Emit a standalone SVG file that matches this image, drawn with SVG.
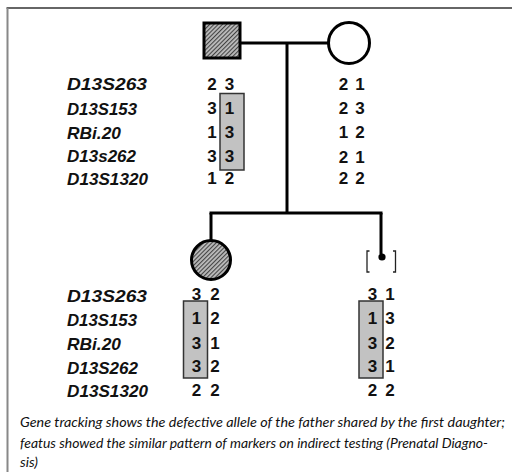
<svg xmlns="http://www.w3.org/2000/svg" width="512" height="472" viewBox="0 0 512 472">
  <defs>
    <pattern id="hatch" width="3" height="3" patternUnits="userSpaceOnUse" patternTransform="rotate(45)">
      <rect width="3" height="3" fill="#bdbdbd"/>
      <rect width="1.1" height="3" fill="#444"/>
    </pattern>
    <style>
      .line { stroke: #000; stroke-width: 3; fill: none; }
      .lbl { font-family: "Liberation Sans", Arial, sans-serif; font-size: 17px; font-weight: bold; font-style: italic; fill: #111; }
      .num { font-family: "Liberation Sans", Arial, sans-serif; font-size: 17px; font-weight: bold; fill: #111; text-anchor: middle; }
      .hap { fill: #c2c2c2; stroke: #333; stroke-width: 1.5; }
      .cap { font-family: Lato, "Open Sans", sans-serif; font-size: 14.2px; font-style: italic; fill: #111; }
    </style>
  </defs>

  <rect width="512" height="472" fill="#fff"/>
  <!-- frame -->
  <line x1="6.5" y1="8" x2="512" y2="8" stroke="#333" stroke-width="1.5"/>
  <line x1="7.5" y1="8" x2="7.5" y2="472" stroke="#888" stroke-width="2"/>

  <!-- connectors -->
  <g id="connectors">
    <line class="line" x1="241" y1="43" x2="329" y2="43"/>
    <line class="line" x1="287" y1="43" x2="287" y2="213"/>
    <line class="line" x1="209.5" y1="213" x2="382.5" y2="213"/>
    <line class="line" x1="211" y1="213" x2="211" y2="241"/>
    <line class="line" x1="381" y1="213" x2="381" y2="254"/>
  </g>

  <!-- father -->
  <g id="father">
    <rect x="204" y="23" width="36" height="35" fill="url(#hatch)" stroke="#000" stroke-width="3"/>
  </g>

  <!-- mother -->
  <g id="mother">
    <circle cx="349" cy="43" r="20.5" fill="#fff" stroke="#000" stroke-width="3"/>
  </g>

  <!-- affected daughter -->
  <g id="daughter">
    <circle cx="211" cy="260" r="19.5" fill="url(#hatch)" stroke="#000" stroke-width="3"/>
  </g>

  <!-- fetus (prenatal) -->
  <g id="fetus">
    <path d="M369.5 251 H367 V272 H369.5" fill="none" stroke="#222" stroke-width="1.3"/>
    <path d="M393 251 H395.5 V272 H393" fill="none" stroke="#222" stroke-width="1.3"/>
    <circle cx="382" cy="257" r="3.6" fill="#000"/>
  </g>

  <!-- haplotype boxes -->
  <g id="haplotypes">
    <rect class="hap" x="220" y="93.5" width="24" height="76.5"/>
    <rect class="hap" x="183.5" y="301" width="24" height="77"/>
    <rect class="hap" x="359" y="301" width="24" height="77"/>
  </g>

  <!-- parental markers -->
  <g id="parent-markers">
    <text class="lbl" x="67" y="90" textLength="80" lengthAdjust="spacingAndGlyphs">D13S263</text>
    <text class="lbl" x="67" y="114.5" textLength="70" lengthAdjust="spacingAndGlyphs">D13S153</text>
    <text class="lbl" x="67" y="139" textLength="54" lengthAdjust="spacingAndGlyphs">RBi.20</text>
    <text class="lbl" x="67" y="162" textLength="69" lengthAdjust="spacingAndGlyphs">D13s262</text>
    <text class="lbl" x="67" y="185" textLength="81" lengthAdjust="spacingAndGlyphs">D13S1320</text>

    <text class="num" x="212" y="89.5">2</text><text class="num" x="229.5" y="89.5">3</text>
    <text class="num" x="212" y="114">3</text><text class="num" x="229.5" y="114">1</text>
    <text class="num" x="212" y="138">1</text><text class="num" x="229.5" y="138">3</text>
    <text class="num" x="212" y="161.5">3</text><text class="num" x="229.5" y="161.5">3</text>
    <text class="num" x="212" y="184">1</text><text class="num" x="229.5" y="184">2</text>

    <text class="num" x="343.5" y="89.5">2</text><text class="num" x="360" y="89.5">1</text>
    <text class="num" x="343.5" y="113.5">2</text><text class="num" x="360" y="113.5">3</text>
    <text class="num" x="343.5" y="138">1</text><text class="num" x="360" y="138">2</text>
    <text class="num" x="343.5" y="162.5">2</text><text class="num" x="360" y="162.5">1</text>
    <text class="num" x="343.5" y="184">2</text><text class="num" x="360" y="184">2</text>
  </g>

  <!-- offspring markers -->
  <g id="offspring-markers">
    <text class="lbl" x="67" y="301.5" textLength="80" lengthAdjust="spacingAndGlyphs">D13S263</text>
    <text class="lbl" x="67" y="325.5" textLength="70" lengthAdjust="spacingAndGlyphs">D13S153</text>
    <text class="lbl" x="67" y="350" textLength="54" lengthAdjust="spacingAndGlyphs">RBi.20</text>
    <text class="lbl" x="67" y="373.5" textLength="71" lengthAdjust="spacingAndGlyphs">D13S262</text>
    <text class="lbl" x="67" y="397" textLength="81" lengthAdjust="spacingAndGlyphs">D13S1320</text>

    <text class="num" x="196.5" y="299.5">3</text><text class="num" x="215" y="299.5">2</text>
    <text class="num" x="196.5" y="324">1</text><text class="num" x="215" y="324">2</text>
    <text class="num" x="196.5" y="348.5">3</text><text class="num" x="215" y="348.5">1</text>
    <text class="num" x="196.5" y="372">3</text><text class="num" x="215" y="372">2</text>
    <text class="num" x="196.5" y="395.5">2</text><text class="num" x="215" y="395.5">2</text>

    <text class="num" x="372.5" y="299.5">3</text><text class="num" x="390" y="299.5">1</text>
    <text class="num" x="372.5" y="324">1</text><text class="num" x="390" y="324">3</text>
    <text class="num" x="372.5" y="348.5">3</text><text class="num" x="390" y="348.5">2</text>
    <text class="num" x="372.5" y="372">3</text><text class="num" x="390" y="372">1</text>
    <text class="num" x="372.5" y="395.5">2</text><text class="num" x="390" y="395.5">2</text>
  </g>

  <!-- caption -->
  <g id="caption">
    <text class="cap" x="20" y="427" textLength="485" lengthAdjust="spacingAndGlyphs">Gene tracking shows the defective allele of the father shared by the first daughter;</text>
    <text class="cap" x="20" y="447.5" textLength="468" lengthAdjust="spacingAndGlyphs">featus showed the similar pattern of markers on indirect testing (Prenatal Diagno-</text>
    <text class="cap" x="20" y="467">sis)</text>
  </g>
</svg>
